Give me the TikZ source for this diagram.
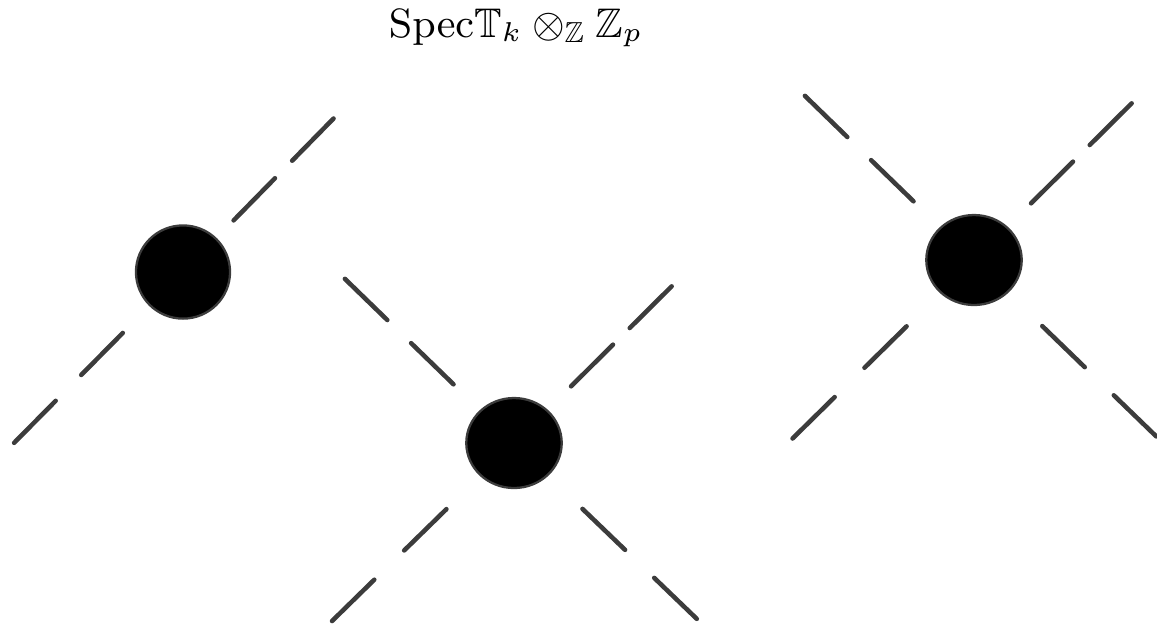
\documentclass[tikz,border=0pt]{standalone}
\usepackage{amssymb}
\usetikzlibrary{shapes.geometric}
\definecolor{linegray}{HTML}{3C3C3C}
\begin{document}
\begin{tikzpicture}[x=0.22pt,y=-0.22pt]
    \tikzset{
        dot/.style={draw=linegray, fill=black, ellipse, line width=0.5pt, inner sep=0pt, minimum width=21pt, minimum height=19.8pt},
        arm/.style 2 args={draw=linegray, line width=1pt, line cap=round, shorten <=#1, dash pattern=on 13pt off #2 on 13pt off 60pt}
    }
    \useasboundingbox (0,0) rectangle (1157,626);

    \node (title) at (516,37) [anchor=base, font=\fontsize{9.1}{11}\selectfont] {$\mathrm{Spec}\mathbb{T}_k\otimes_{\mathbb{Z}}\mathbb{Z}_p$};

    \node[dot, minimum width=20.7pt, minimum height=20.5pt] (d1) at (183,272) {};
    \node[dot] (d2) at (514,443) {};
    \node[dot] (d3) at (974,260) {};

    % free ends of the arms
    \coordinate (d1ur) at (335,117);
    \coordinate (d1ll) at (10,447);
    \coordinate (d2ul) at (343,277);
    \coordinate (d2ur) at (674,284);
    \coordinate (d2ll) at (330,623);
    \coordinate (d2lr) at (698,620);
    \coordinate (d3ul) at (803,94);
    \coordinate (d3ur) at (1134,101);
    \coordinate (d3ll) at (791,440);
    \coordinate (d3lr) at (1160,440);

    \draw[arm={15.9pt}{5.4pt}] (d1.center) -- (d1ur);
    \draw[arm={18.85pt}{8pt}] (d1.center) -- (d1ll);
    \foreach \d in {d2,d3}{
        \draw[arm={18.55pt}{7.3pt}] (\d.center) -- (\d ul);
        \draw[arm={17.7pt}{5.2pt}] (\d.center) -- (\d ur);
        \draw[arm={20.8pt}{9.2pt}] (\d.center) -- (\d ll);
        \draw[arm={20.9pt}{8.9pt}] (\d.center) -- (\d lr);
    }
\end{tikzpicture}
\end{document}
